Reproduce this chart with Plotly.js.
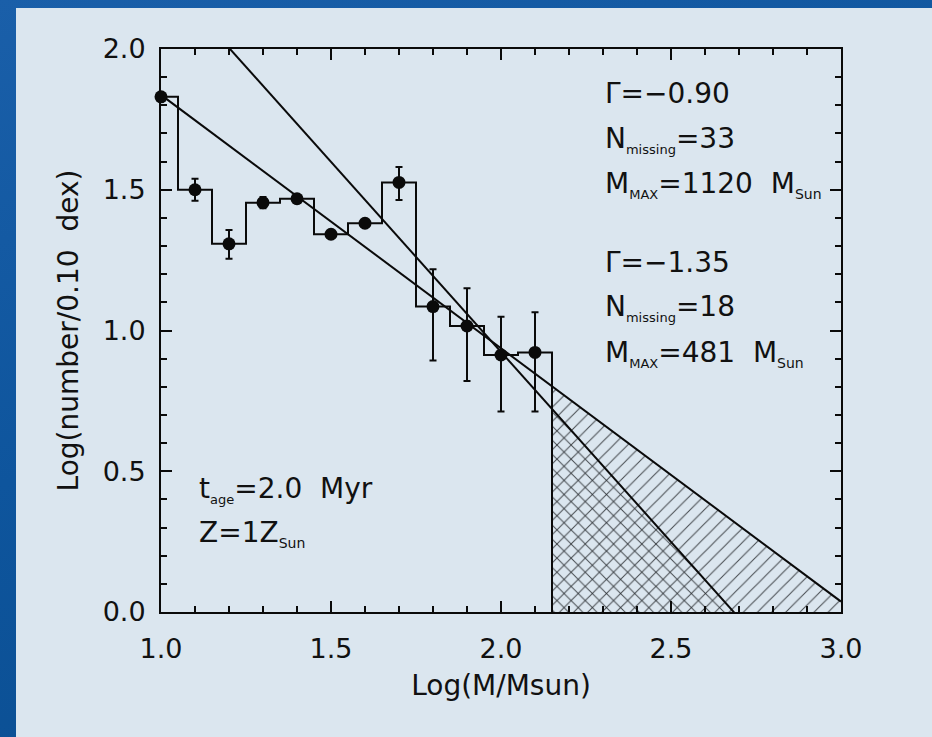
<!DOCTYPE html>
<html>
<head>
<meta charset="utf-8">
<script src="https://cdn.plot.ly/plotly-3.0.1.min.js"></script>
<style>
  html, body { margin: 0; padding: 0; width: 932px; height: 737px; overflow: hidden; }
  body {
    background: linear-gradient(160deg, #1a5fa9 0%, #0e559d 45%, #094b8c 100%);
    position: relative;
  }
  #chart { position: absolute; left: 16px; top: 8px; width: 916px; height: 729px; }
</style>
</head>
<body>
<div id="chart"></div>
<script>
// Mass function of the cluster: log number per 0.10 dex bin
const binCenters = [1.0, 1.1, 1.2, 1.3, 1.4, 1.5, 1.6, 1.7, 1.8, 1.9, 2.0, 2.1];
const logCounts  = [1.830, 1.500, 1.308, 1.454, 1.468, 1.342, 1.381, 1.526, 1.085, 1.016, 0.913, 0.922];
const errUp      = [0.010, 0.039, 0.049, 0.020, 0.012, 0.010, 0.010, 0.055, 0.133, 0.134, 0.136, 0.143];
const errDown    = [0.010, 0.039, 0.053, 0.020, 0.012, 0.010, 0.010, 0.062, 0.192, 0.195, 0.201, 0.210];
const binWidth = 0.10;

// Power-law fits: slope Gamma and value at log(M/Msun) = 1
const fitSlopes  = [-0.90, -1.35];
const fitAnchors = [1.837, 2.274];
const fitPatterns = ['/', '\\'];

const xRange = [1.0, 3.0];
const yRange = [0.0, 2.0];

const sub = (t, px) => '<sub><span style="font-size:' + px + 'px">' + t + '</span></sub>';
const fitLabels = [
  ['\u0393=\u22120.90', 'N' + sub('missing', 13) + '=33',
   'M' + sub('MAX', 13) + '=1120\u00a0\u00a0M' + sub('Sun', 14)],
  ['\u0393=\u22121.35', 'N' + sub('missing', 13) + '=18',
   'M' + sub('MAX', 13) + '=481\u00a0\u00a0M' + sub('Sun', 14)]
];
const clusterLabels = ['t' + sub('age', 13) + '=2.0\u00a0\u00a0Myr',
                       'Z=1Z' + sub('Sun', 14)];

// ---- derived geometry ----
const fitValue = (k, x) => fitAnchors[k] + fitSlopes[k] * (x - 1.0);

// histogram outline
const stepX = [], stepY = [];
stepX.push(binCenters[0] - binWidth / 2); stepY.push(0);
binCenters.forEach((c, i) => {
  stepX.push(c - binWidth / 2, c + binWidth / 2);
  stepY.push(logCounts[i], logCounts[i]);
});
const lastEdge = binCenters[binCenters.length - 1] + binWidth / 2;
stepX.push(lastEdge); stepY.push(0);

const ink = '#0a0a0a';
const traces = [];

// hatched regions of missing stars beyond the last observed bin
fitSlopes.forEach((s, k) => {
  const root = 1.0 - fitAnchors[k] / s;
  const xs = [lastEdge, lastEdge], ys = [0, fitValue(k, lastEdge)];
  if (root > xRange[1]) {
    xs.push(xRange[1], xRange[1]); ys.push(fitValue(k, xRange[1]), 0);
  } else {
    xs.push(root); ys.push(0);
  }
  traces.push({
    x: xs, y: ys, mode: 'lines', fill: 'toself', line: {width: 0, color: 'rgba(0,0,0,0)'},
    fillcolor: 'rgba(0,0,0,0)',
    fillpattern: {shape: fitPatterns[k], size: 10, solidity: 0.1, fgcolor: '#2b2f33', bgcolor: 'rgba(0,0,0,0)', fgopacity: 0.85},
    hoverinfo: 'skip', showlegend: false
  });
});

// fit lines
fitSlopes.forEach((s, k) => {
  traces.push({
    x: xRange.slice(), y: xRange.map(x => fitValue(k, x)),
    mode: 'lines', line: {color: ink, width: 2}, showlegend: false, hoverinfo: 'skip'
  });
});

// histogram
traces.push({
  x: stepX, y: stepY, mode: 'lines', line: {color: ink, width: 2, shape: 'linear'},
  showlegend: false, hoverinfo: 'skip'
});

// data points
traces.push({
  x: binCenters, y: logCounts, mode: 'markers',
  marker: {color: ink, size: 13},
  error_y: {type: 'data', symmetric: false, array: errUp, arrayminus: errDown,
            color: ink, thickness: 2, width: 3.5},
  showlegend: false, cliponaxis: false
});

const textFont = {family: 'DejaVu Sans, sans-serif', size: 28, color: '#111'};
const annotations = [];
const rowY = [[1.841, 1.677, 1.520], [1.242, 1.080, 0.917]];
fitLabels.forEach((rows, k) => rows.forEach((t, j) => {
  annotations.push({x: 2.30, y: rowY[k][j], xref: 'x', yref: 'y', text: t, showarrow: false,
                    xanchor: 'left', yanchor: 'middle', font: textFont});
}));
const clusterY = [0.435, 0.279];
clusterLabels.forEach((t, j) => {
  annotations.push({x: 1.105, y: clusterY[j], xref: 'x', yref: 'y', text: t, showarrow: false,
                    xanchor: 'left', yanchor: 'middle', font: textFont});
});

const axisCommon = {
  showgrid: false, zeroline: false, showline: true, linecolor: ink, linewidth: 2,
  mirror: 'allticks', ticks: 'inside', ticklen: 11, tickwidth: 2, tickcolor: ink,
  dtick: 0.5, tickformat: '.1f',
  minor: {dtick: 0.1, ticks: 'inside', ticklen: 6, tickwidth: 2, tickcolor: ink},
  tickfont: {family: 'DejaVu Sans, sans-serif', size: 27, color: '#111'}
};

const layout = {
  width: 916, height: 729,
  margin: {l: 145, r: 91, t: 41, b: 125},
  paper_bgcolor: '#dbe6ef', plot_bgcolor: 'rgba(0,0,0,0)',
  xaxis: Object.assign({}, axisCommon, {
    range: xRange, tick0: 1.0, ticklabelstandoff: 12,
    title: {text: 'Log(M/Msun)', font: {family: 'DejaVu Sans, sans-serif', size: 28, color: '#111'}, standoff: 12}
  }),
  yaxis: Object.assign({}, axisCommon, {
    range: yRange, tick0: 0.0, ticklabelstandoff: 8,
    title: {text: 'Log(number/0.10\u00a0\u00a0dex)', font: {family: 'DejaVu Sans, sans-serif', size: 28, color: '#111'}, standoff: 16}
  }),
  annotations: annotations,
  showlegend: false
};

Plotly.newPlot('chart', traces, layout, {staticPlot: true, displayModeBar: false});
</script>
</body>
</html>
